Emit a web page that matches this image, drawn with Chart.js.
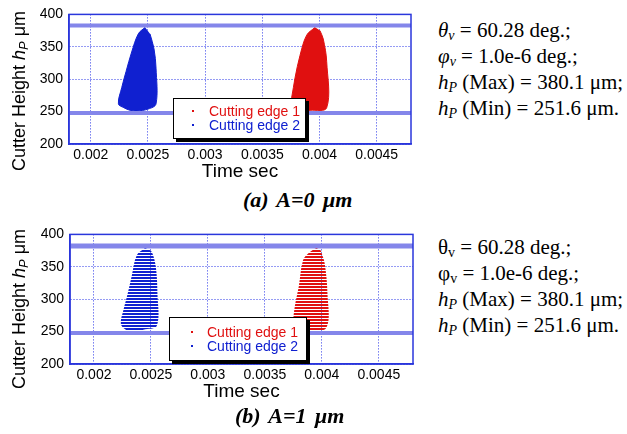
<!DOCTYPE html>
<html>
<head>
<meta charset="utf-8">
<script src="https://cdn.jsdelivr.net/npm/chart.js@4.4.1/dist/chart.umd.min.js"></script>
<style>
body { margin:0; background:#fff; width:627px; height:434px; position:relative; overflow:hidden; font-family:"Liberation Sans", Arial, sans-serif; }
.plot { position:absolute; left:0; }
.ytitle { position:absolute; font-size:18px; white-space:nowrap; transform:translate(-50%,-50%) rotate(-90deg); }
.ytitle sub { font-size:13px; vertical-align:-3px; line-height:0; }
.legend { position:absolute; background:#fff; border:1.5px solid #000; box-shadow:3px 3px 0 #000; font-size:14px; }
.legend div { position:absolute; white-space:nowrap; line-height:14px; }
.legend span.dot { position:absolute; width:2px; height:2px; }
.notes { position:absolute; left:438px; font-family:"Liberation Serif","Times New Roman",serif; font-size:21px; line-height:26px; white-space:nowrap; }
.notes sub { font-size:14px; vertical-align:-3px; line-height:0; }
.cap { position:absolute; font-family:"Liberation Serif","Times New Roman",serif; font-weight:bold; font-style:italic; font-size:22px; word-spacing:3px; white-space:nowrap; }
</style>
</head>
<body>

<div class="plot" style="top:0"><canvas id="chartA" width="430" height="184"></canvas></div>
<div class="plot" style="top:220px"><canvas id="chartB" width="432" height="184"></canvas></div>

<div class="ytitle" style="left:19px;top:91px">Cutter Height <i>h</i><sub><i>P</i></sub> μm</div>
<div class="ytitle" style="left:19px;top:309px">Cutter Height <i>h</i><sub><i>P</i></sub> μm</div>

<div class="legend" style="left:173px;top:98px;width:131px;height:39px">
  <span class="dot" style="left:18px;top:11px;background:#e01010"></span>
  <div style="left:35px;top:5px;color:#e01010">Cutting edge 1</div>
  <span class="dot" style="left:18px;top:25px;background:#1020d0"></span>
  <div style="left:35px;top:19px;color:#1020d0">Cutting edge 2</div>
</div>
<div class="legend" style="left:169px;top:317px;width:136px;height:42px">
  <span class="dot" style="left:21px;top:13px;background:#e01010"></span>
  <div style="left:37px;top:7px;color:#e01010">Cutting edge 1</div>
  <span class="dot" style="left:21px;top:27px;background:#1020d0"></span>
  <div style="left:37px;top:21px;color:#1020d0">Cutting edge 2</div>
</div>

<div class="notes" style="top:17px">
  <i>θ<sub>v</sub></i> = 60.28 deg.;<br>
  <i>φ<sub>v</sub></i> = 1.0e-6 deg.;<br>
  <i>h<sub>P</sub></i> (Max) = 380.1 μm;<br>
  <i>h<sub>P</sub></i> (Min) = 251.6 μm.
</div>
<div class="notes" style="top:234px">
  θ<sub>v</sub> = 60.28 deg.;<br>
  φ<sub>v</sub> = 1.0e-6 deg.;<br>
  <i>h<sub>P</sub></i> (Max) = 380.1 μm;<br>
  <i>h<sub>P</sub></i> (Min) = 251.6 μm.
</div>

<div class="cap" style="left:243px;top:187px">(a) A=0 μm</div>
<div class="cap" style="left:235px;top:403px">(b) A=1 μm</div>

<script>
// tick values
const timeTicks = [0.002, 0.0025, 0.003, 0.0035, 0.004, 0.0045];
const heightTicks = [200, 250, 300, 350, 400];

// (a) A=0 um : outline of the cutting-edge point clouds
const edge2A_t = [0.002475, 0.002416, 0.002358, 0.002309, 0.002271, 0.002242, 0.00229, 0.002344, 0.002402, 0.002504, 0.002571, 0.002571, 0.002553, 0.002518];
const edge2A_h = [380, 370, 342, 312, 287, 262, 256, 252, 251, 254, 262, 317, 347, 370];
const edge1A_t = [0.003961, 0.003888, 0.00383, 0.003786, 0.003757, 0.00374, 0.00378, 0.003835, 0.003917, 0.004063, 0.004063, 0.004033, 0.004004];
const edge1A_h = [380, 368, 337, 302, 272, 262, 255, 251, 252, 256, 327, 362, 375];
const bandsA = [383, 248];

// (b) A=1 um
const edge2B_t = [0.002449, 0.002376, 0.002333, 0.002298, 0.00226, 0.002236, 0.00228, 0.002362, 0.002434, 0.002552, 0.002557, 0.002543, 0.002508, 0.002473];
const edge2B_h = [379, 368, 337, 310, 284, 262, 253, 250, 253, 259, 310, 350, 373, 377];
const edge1B_t = [0.003953, 0.00389, 0.003835, 0.003798, 0.003763, 0.003748, 0.003763, 0.00387, 0.00404, 0.004049, 0.004025, 0.003991];
const edge1B_h = [379, 372, 360, 320, 289, 262, 254, 252, 256, 310, 355, 375];
const bandsB = [382, 248];

const red = "#e01010";
const blue = "#1020d0";
const axisBlue = "#2a36dc";
const gridBlue = "#2a36e8";
const bandColor = "#8486ea";

function pts(t, h) {
    return t.map((v, i) => ({ x: v, y: h[i] }));
}

function stripes(color) {
    let c = document.createElement("canvas");
    c.width = 4; c.height = 3;
    let g = c.getContext("2d");
    g.fillStyle = color;
    g.fillRect(0, 0, 4, 2);
    return g.createPattern(c, "repeat");
}

const framePlugin = {
    id: "frame",
    afterDatasetsDraw(chart) {
        let a = chart.chartArea, ctx = chart.ctx;
        ctx.save();
        ctx.strokeStyle = axisBlue;
        ctx.lineWidth = 1.5;
        ctx.strokeRect(a.left, a.top, a.right - a.left, a.bottom - a.top);
        ctx.restore();
    }
};

function shape(data, color, fillStyle, border) {
    return {
        data: data, showLine: true, fill: "shape", tension: 0.35,
        backgroundColor: fillStyle, borderColor: color, borderWidth: border,
        pointRadius: 0, order: 1
    };
}

function band(y, xMin, xMax, w) {
    return {
        data: [{ x: xMin, y: y }, { x: xMax, y: y }], showLine: true, fill: false,
        borderColor: bandColor, borderWidth: w, pointRadius: 0, order: 0
    };
}

function makeChart(id, cfg) {
    new Chart(document.getElementById(id), {
        type: "scatter",
        data: { datasets: cfg.datasets },
        options: {
            responsive: false, animation: false, devicePixelRatio: 1,
            layout: { padding: { top: 12, right: cfg.padRight, left: 0, bottom: 0 } },
            plugins: { legend: { display: false }, tooltip: { enabled: false } },
            scales: {
                x: {
                    type: "linear", min: cfg.xMin, max: cfg.xMax,
                    afterBuildTicks: s => { s.ticks = timeTicks.map(v => ({ value: v })); },
                    afterFit: s => { s.height = 40; },
                    ticks: {
                        callback: v => String(+v.toFixed(4)), color: "#000", padding: 3,
                        maxRotation: 0, autoSkip: false,
                        font: { family: "Liberation Sans", size: 14 }
                    },
                    grid: { color: gridBlue, lineWidth: 1, drawTicks: false },
                    border: { color: axisBlue, width: 1.5, dash: [1, 2] },
                    title: {
                        display: true, text: "Time sec", color: "#000",
                        font: { family: "Liberation Sans", size: 19 }, padding: { top: 0, bottom: 1 }
                    }
                },
                y: {
                    min: 200, max: 400,
                    afterBuildTicks: s => { s.ticks = heightTicks.map(v => ({ value: v })); },
                    afterFit: s => { s.width = cfg.yWidth; },
                    ticks: { color: "#000", padding: 6, font: { family: "Liberation Sans", size: 14 } },
                    grid: { color: gridBlue, lineWidth: 1, drawTicks: false },
                    border: { color: axisBlue, width: 1.5, dash: [1, 2] }
                }
            }
        },
        plugins: [framePlugin]
    });
}

makeChart("chartA", {
    xMin: 0.00181, xMax: 0.0048, padRight: 19, yWidth: 69,
    datasets: [
        shape(pts(edge1A_t, edge1A_h), red, red, 1),
        shape(pts(edge2A_t, edge2A_h), blue, blue, 1),
        band(bandsA[0], 0.00181, 0.0048, 4),
        band(bandsA[1], 0.00181, 0.0048, 4)
    ]
});

makeChart("chartB", {
    xMin: 0.00179, xMax: 0.0048, padRight: 19, yWidth: 70,
    datasets: [
        shape(pts(edge1B_t, edge1B_h), red, stripes(red), 0),
        shape(pts(edge2B_t, edge2B_h), blue, stripes(blue), 0),
        band(bandsB[0], 0.00179, 0.0048, 5),
        band(bandsB[1], 0.00179, 0.0048, 4)
    ]
});
</script>
</body>
</html>
